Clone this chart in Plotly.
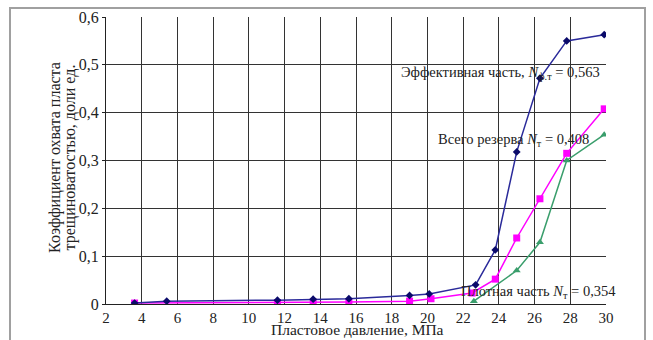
import plotly.graph_objects as go

# Effective part
p_eff = [3.6, 5.4, 11.6, 13.6, 15.6, 19.0, 20.1, 22.7, 23.8, 25.0, 26.3, 27.8, 29.9]
k_eff = [0.002, 0.006, 0.008, 0.010, 0.011, 0.018, 0.021, 0.040, 0.113, 0.318, 0.472, 0.550, 0.563]
# Total reserve
p_tot = [3.6, 11.6, 13.6, 15.6, 19.0, 20.2, 22.5, 23.8, 25.0, 26.3, 27.8, 29.9]
k_tot = [0.002, 0.003, 0.004, 0.004, 0.006, 0.011, 0.023, 0.052, 0.138, 0.220, 0.315, 0.408]
# Dense part
p_den = [22.6, 25.0, 26.3, 27.8, 29.9]
k_den = [0.006, 0.070, 0.129, 0.300, 0.354]

x_ticks = [2, 4, 6, 8, 10, 12, 14, 16, 18, 20, 22, 24, 26, 28, 30]
y_ticks = [0, 0.1, 0.2, 0.3, 0.4, 0.5, 0.6]
y_labels = ["0", "0,1", "0,2", "0,3", "0,4", "0,5", "0,6"]

FONT = "Liberation Serif"

fig = go.Figure()
fig.add_trace(go.Scatter(x=p_tot, y=k_tot, mode="lines+markers",
                         line=dict(color="#ff00ff", width=1.5),
                         marker=dict(symbol="square", size=7, color="#ff00ff")))
fig.add_trace(go.Scatter(x=p_den, y=k_den, mode="lines+markers",
                         line=dict(color="#3a9e6c", width=1.5),
                         marker=dict(symbol="triangle-up", size=7, color="#3a9e6c")))
fig.add_trace(go.Scatter(x=p_eff, y=k_eff, mode="lines+markers",
                         line=dict(color="#2a2a9a", width=1.5),
                         marker=dict(symbol="diamond", size=6, color="#0a0a6a")))

ann_font = dict(family=FONT, size=14.5, color="#222")
fig.add_annotation(x=18.40, y=0.4836, xanchor="left", yanchor="middle", showarrow=False,
                   text="Эффективная часть, <i>N</i><sub>ф.т</sub> = 0,563", font=ann_font)
fig.add_annotation(x=20.50, y=0.3435, xanchor="left", yanchor="middle", showarrow=False,
                   text="Всего резерва <i>N</i><sub>т</sub> = 0,408", font=ann_font)
fig.add_annotation(x=21.78, y=0.0257, xanchor="left", yanchor="middle", showarrow=False,
                   text="Плотная часть <i>N</i><sub>т</sub> = 0,354", font=ann_font)

title_font = dict(family=FONT, size=16, color="#222")
fig.add_annotation(xref="paper", yref="paper", x=-0.102, y=0.509, textangle=-90,
                   xanchor="center", yanchor="middle",
                   showarrow=False, text="Коэффициент охвата пласта", font=title_font)
fig.add_annotation(xref="paper", yref="paper", x=-0.073, y=0.509, textangle=-90,
                   xanchor="center", yanchor="middle",
                   showarrow=False, text="трещиноватостью, доли ед.", font=title_font)
fig.add_annotation(xref="paper", yref="paper", x=0.502, y=-0.1254,
                   xanchor="center", yanchor="bottom",
                   showarrow=False, text="Пластовое давление, МПа",
                   font=dict(family=FONT, size=15.5, color="#222"))

fig.add_shape(type="rect", xref="paper", yref="paper", x0=-0.192, x1=1.078, y0=-0.16, y1=1.031,
              line=dict(color="#a0a0a0", width=2), fillcolor="rgba(0,0,0,0)", layer="below")

fig.update_layout(
    width=653, height=340,
    margin=dict(l=106, r=47, t=17, b=36),
    paper_bgcolor="white", plot_bgcolor="white",
    showlegend=False,
    font=dict(family=FONT, size=16, color="#222"),
    xaxis=dict(range=[2, 30], tickvals=x_ticks, ticktext=[str(v) for v in x_ticks],
               showgrid=True, gridcolor="#333", gridwidth=1,
               showline=True, linecolor="#222", linewidth=1, mirror=False,
               ticks="", zeroline=False, automargin=False,
               tickfont=dict(family=FONT, size=15, color="#222")),
    yaxis=dict(range=[0, 0.6], tickvals=y_ticks, ticktext=y_labels,
               showgrid=True, gridcolor="#333", gridwidth=1,
               showline=True, linecolor="#222", linewidth=1,
               ticks="outside", ticklen=3, tickcolor="#222",
               zeroline=False, automargin=False,
               tickfont=dict(family=FONT, size=16, color="#222")),
)
fig.write_html("out.html", config={"displayModeBar": False},
               post_script="document.body.style.margin='0';document.body.style.padding='0';")
